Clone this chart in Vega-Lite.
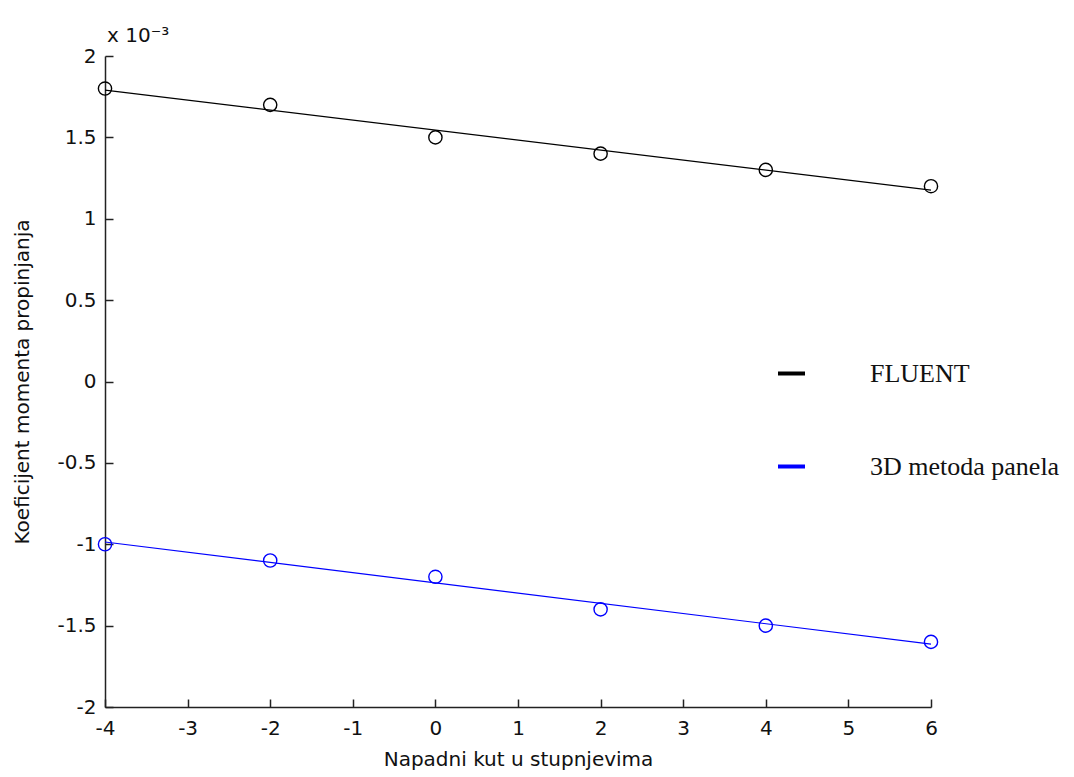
{
  "$schema": "https://vega.github.io/schema/vega-lite/v6.json",
  "width": 826,
  "height": 651,
  "autosize": {"type": "none"},
  "padding": {"left": 105, "top": 56, "right": 143, "bottom": 70},
  "background": "white",
  "config": {
    "view": {"stroke": null},
    "font": "DejaVu Sans",
    "axis": {"grid": false, "domainColor": "#222", "tickColor": "#222", "labelColor": "#111", "titleColor": "#111", "labelFont": "DejaVu Sans", "titleFont": "DejaVu Sans", "labelFontSize": 20, "titleFontSize": 20, "titleFontWeight": "normal", "domainWidth": 1.5, "tickWidth": 1.5}
  },
  "title": {"text": "x 10⁻³", "anchor": "start", "frame": "group", "fontSize": 20, "fontWeight": "normal", "font": "DejaVu Sans", "color": "#111", "dx": 2, "offset": 0},
  "datasets": {
    "pts": [
      {"kut": -4, "cm": 1.8, "serija": "FLUENT"},
      {"kut": -2, "cm": 1.7, "serija": "FLUENT"},
      {"kut": 0, "cm": 1.5, "serija": "FLUENT"},
      {"kut": 2, "cm": 1.4, "serija": "FLUENT"},
      {"kut": 4, "cm": 1.3, "serija": "FLUENT"},
      {"kut": 6, "cm": 1.2, "serija": "FLUENT"},
      {"kut": -4, "cm": -1.0, "serija": "3D metoda panela"},
      {"kut": -2, "cm": -1.1, "serija": "3D metoda panela"},
      {"kut": 0, "cm": -1.2, "serija": "3D metoda panela"},
      {"kut": 2, "cm": -1.4, "serija": "3D metoda panela"},
      {"kut": 4, "cm": -1.5, "serija": "3D metoda panela"},
      {"kut": 6, "cm": -1.6, "serija": "3D metoda panela"}
    ],
    "fit": [
      {"kut": -4, "cm": 1.79, "serija": "FLUENT"},
      {"kut": 6, "cm": 1.176, "serija": "FLUENT"},
      {"kut": -4, "cm": -0.986, "serija": "3D metoda panela"},
      {"kut": 6, "cm": -1.614, "serija": "3D metoda panela"}
    ]
  },
  "encoding": {
    "x": {"field": "kut", "type": "quantitative", "scale": {"domain": [-4, 6], "nice": false, "zero": false},
      "axis": {"title": "Napadni kut u stupnjevima", "values": [-4, -3, -2, -1, 0, 1, 2, 3, 4, 5, 6], "labelExpr": "'' + datum.value", "tickSize": -8, "labelPadding": 19, "titlePadding": 11, "labelFlush": false}},
    "y": {"field": "cm", "type": "quantitative", "scale": {"domain": [-2, 2], "nice": false, "zero": false},
      "axis": {"title": "Koeficijent momenta propinjanja", "values": [-2, -1.5, -1, -0.5, 0, 0.5, 1, 1.5, 2], "labelExpr": "'' + datum.value", "tickSize": -8, "labelPadding": 17, "titlePadding": 24, "labelFlush": false}},
    "color": {"field": "serija", "type": "nominal", "scale": {"domain": ["FLUENT", "3D metoda panela"], "range": ["black", "blue"]},
      "legend": {"title": null, "orient": "none", "legendX": 671, "legendY": 302, "symbolType": "stroke", "symbolSize": 729, "symbolStrokeWidth": 4, "labelOffset": 63, "labelFont": "Liberation Serif", "labelFontSize": 26, "labelColor": "#111", "labelLimit": 400, "rowPadding": 64}}
  },
  "layer": [
    {"data": {"name": "fit"}, "mark": {"type": "line", "strokeWidth": 1.2}},
    {"data": {"name": "pts"}, "mark": {"type": "point", "shape": "circle", "filled": false, "size": 175, "strokeWidth": 1.4, "opacity": 1}}
  ]
}
